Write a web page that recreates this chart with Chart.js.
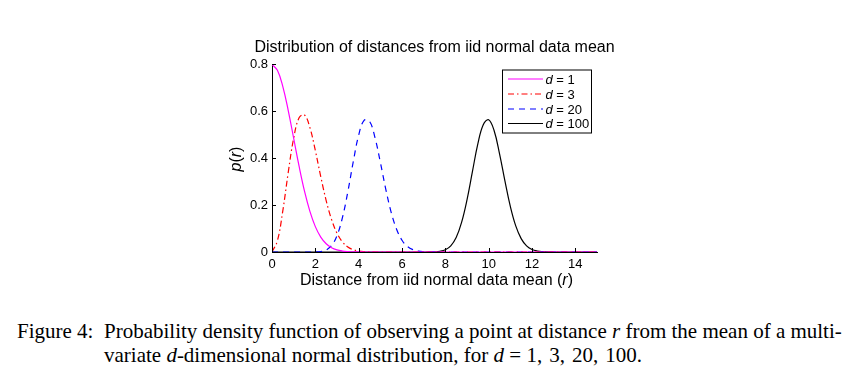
<!DOCTYPE html>
<html>
<head>
<meta charset="utf-8">
<script src="https://cdn.jsdelivr.net/npm/chart.js@4/dist/chart.umd.min.js"></script>
<style>
  body { margin: 0; background: #fff; width: 856px; height: 387px; overflow: hidden; position: relative; }
  #wrap { position: absolute; left: 0; top: 0; width: 856px; height: 300px; }
  .cap { position: absolute; font-family: "Liberation Serif", "Times New Roman", serif; font-size: 21px; line-height: 24px; color: #000; white-space: nowrap; }
  #capLabel { left: 17px; top: 319px; }
  #capLine1 { left: 104px; top: 319px; width: 735px; text-align: justify; text-align-last: justify; }
  #capLine2 { left: 104px; top: 343px; }
</style>
</head>
<body>
<div id="wrap"><canvas id="pdfChart" width="856" height="300"></canvas></div>
<div class="cap" id="capLabel">Figure 4:</div>
<div class="cap" id="capLine1">Probability density function of observing a point at distance <i>r</i> from the mean of a multi-</div>
<div class="cap" id="capLine2">variate <i>d</i>-dimensional normal distribution, for <i>d</i> = 1,&#8202; 3,&#8202; 20,&#8202; 100.</div>
<script>
// distance grid (r), step 0.25 from 0 to 15
const rValues = [
  0, 0.25, 0.5, 0.75, 1, 1.25, 1.5, 1.75, 2, 2.25, 2.5, 2.75, 3, 3.25, 3.5, 3.75,
  4, 4.25, 4.5, 4.75, 5, 5.25, 5.5, 5.75, 6, 6.25, 6.5, 6.75, 7, 7.25, 7.5, 7.75,
  8, 8.25, 8.5, 8.75, 9, 9.25, 9.5, 9.75, 10, 10.25, 10.5, 10.75, 11, 11.25, 11.5, 11.75,
  12, 12.25, 12.5, 12.75, 13, 13.25, 13.5, 13.75, 14, 14.25, 14.5, 14.75, 15
];

// p(r)
const pD1 = [
  0.798, 0.773, 0.704, 0.602, 0.484, 0.365, 0.259, 0.173, 0.108, 0.0635, 0.035, 0.0182, 0.0089, 0.0041, 0.0018, 0.0007,
  0.0003, 0, 0, 0, 0, 0, 0, 0, 0, 0, 0, 0, 0, 0, 0, 0,
  0, 0, 0, 0, 0, 0, 0, 0, 0, 0, 0, 0, 0, 0, 0, 0,
  0, 0, 0, 0, 0, 0, 0, 0, 0, 0, 0, 0, 0
];
const pD3 = [
  0, 0.048, 0.176, 0.339, 0.484, 0.571, 0.583, 0.529, 0.432, 0.321, 0.219, 0.138, 0.08, 0.043, 0.021, 0.01,
  0.0043, 0.0017, 0.0007, 0, 0, 0, 0, 0, 0, 0, 0, 0, 0, 0, 0, 0,
  0, 0, 0, 0, 0, 0, 0, 0, 0, 0, 0, 0, 0, 0, 0, 0,
  0, 0, 0, 0, 0, 0, 0, 0, 0, 0, 0, 0, 0
];
const pD20 = [
  0, 0, 0, 0, 0, 0, 0, 0.00005, 0.0004, 0.0021, 0.0086, 0.0273, 0.0695, 0.146, 0.256, 0.384,
  0.497, 0.56, 0.556, 0.488, 0.382, 0.268, 0.169, 0.097, 0.05, 0.0235, 0.01, 0.0039, 0.0014, 0.0005, 0.00014, 0,
  0, 0, 0, 0, 0, 0, 0, 0, 0, 0, 0, 0, 0, 0, 0, 0,
  0, 0, 0, 0, 0, 0, 0, 0, 0, 0, 0, 0, 0
];
const pD100 = [
  0, 0, 0, 0, 0, 0, 0, 0, 0, 0, 0, 0, 0, 0, 0, 0,
  0, 0, 0, 0, 0, 0, 0, 0, 0, 0, 0, 0, 0.00003, 0.00017, 0.00076, 0.0029,
  0.0094, 0.026, 0.0615, 0.126, 0.222, 0.342, 0.46, 0.542, 0.563, 0.517, 0.419, 0.303, 0.194, 0.111, 0.057, 0.026,
  0.0108, 0.004, 0.00135, 0.0004, 0.0001, 0, 0, 0, 0, 0, 0, 0, 0
];

const seriesNames = ['1', '3', '20', '100'];
const seriesColors = ['#ff00ff', '#ff0000', '#0000ff', '#000000'];
const seriesDashes = [[], [6, 3, 1.5, 3], [6, 5], []];
const seriesValues = [pD1, pD3, pD20, pD100];

const xTicks = [0, 2, 4, 6, 8, 10, 12, 14];
const yTicks = [0, 0.2, 0.4, 0.6, 0.8];

const SANS = '"Liberation Sans", Arial, Helvetica, sans-serif';

// title, axis labels, legend and inward tick marks
const decorPlugin = {
  id: 'decor',
  afterDraw(chart) {
    const ctx = chart.ctx;
    const area = chart.chartArea;
    const xs = chart.scales.x, ys = chart.scales.y;
    ctx.save();
    ctx.strokeStyle = '#000';
    ctx.lineWidth = 1;
    ctx.setLineDash([]);
    // inward ticks
    ctx.beginPath();
    xs.ticks.forEach(t => {
      const px = Math.round(xs.getPixelForValue(t.value)) + 0.5;
      ctx.moveTo(px, area.bottom);
      ctx.lineTo(px, area.bottom - 4);
    });
    ys.ticks.forEach(t => {
      const py = Math.round(ys.getPixelForValue(t.value)) + 0.5;
      ctx.moveTo(area.left, py);
      ctx.lineTo(area.left + 4, py);
    });
    ctx.stroke();

    ctx.fillStyle = '#000';
    // title
    ctx.font = '16px ' + SANS;
    ctx.textAlign = 'center';
    ctx.textBaseline = 'alphabetic';
    ctx.fillText('Distribution of distances from iid normal data mean', (area.left + area.right) / 2, 52);

    // mixed upright / italic text, centred on x
    const drawParts = (parts, x, y) => {
      let w = 0;
      parts.forEach(p => { ctx.font = p[1] + ' 16px ' + SANS; w += ctx.measureText(p[0]).width; });
      let cx = x - w / 2;
      ctx.textAlign = 'left';
      parts.forEach(p => {
        ctx.font = p[1] + ' 16px ' + SANS;
        ctx.fillText(p[0], cx, y);
        cx += ctx.measureText(p[0]).width;
      });
    };
    drawParts([['Distance from iid normal data mean (', 'normal'], ['r', 'italic'], [')', 'normal']],
      (area.left + area.right) / 2 + 2, 285);

    // y label p(r), rotated
    ctx.save();
    ctx.translate(241, (area.top + area.bottom) / 2 + 1);
    ctx.rotate(-Math.PI / 2);
    drawParts([['p', 'italic'], ['(', 'normal'], ['r', 'italic'], [')', 'normal']], 0, 0);
    ctx.restore();

    // legend
    const lx = 502, ly = 69.5, lw = 89, lh = 63;
    ctx.fillStyle = '#fff';
    ctx.fillRect(lx, ly, lw, lh);
    ctx.strokeStyle = '#000';
    ctx.lineWidth = 1;
    ctx.strokeRect(lx + 0.5, ly + 0.5, lw, lh);
    const rowY = [79, 94, 109, 123.5];
    seriesNames.forEach((name, i) => {
      ctx.strokeStyle = seriesColors[i];
      ctx.lineWidth = 1.2;
      ctx.setLineDash(seriesDashes[i]);
      ctx.beginPath();
      ctx.moveTo(508, rowY[i]);
      ctx.lineTo(543, rowY[i]);
      ctx.stroke();
      ctx.setLineDash([]);
      ctx.fillStyle = '#000';
      ctx.textAlign = 'left';
      ctx.textBaseline = 'middle';
      ctx.font = 'italic 13px ' + SANS;
      ctx.fillText('d', 545.5, rowY[i] + 1);
      const dw = ctx.measureText('d').width;
      ctx.font = '13px ' + SANS;
      ctx.fillText(' = ' + name, 545.5 + dw, rowY[i] + 1);
    });
    ctx.restore();
  }
};

document.addEventListener('DOMContentLoaded', function() {
  const ctx = document.getElementById('pdfChart');
  new Chart(ctx.getContext('2d'), {
    type: 'line',
    data: {
      datasets: seriesValues.map((vals, i) => ({
        label: 'd = ' + seriesNames[i],
        data: rValues.map((r, j) => ({ x: r, y: vals[j] })),
        borderColor: seriesColors[i],
        borderDash: seriesDashes[i],
        borderWidth: 1.2,
        pointRadius: 0,
        tension: 0.4,
        fill: false
      }))
    },
    options: {
      responsive: false,
      animation: false,
      events: [],
      layout: { autoPadding: false, padding: { left: 212, right: 259, top: 64, bottom: 8 } },
      plugins: { legend: { display: false }, title: { display: false }, tooltip: { enabled: false } },
      scales: {
        x: {
          type: 'linear', min: 0, max: 15,
          afterFit: s => { s.height = 40; },
          afterBuildTicks: s => { s.ticks = xTicks.map(v => ({ value: v })); },
          grid: { display: false, drawTicks: false },
          border: { display: true, color: '#000', width: 1 },
          ticks: { color: '#000', padding: 5, maxRotation: 0, font: { family: SANS, size: 13 } }
        },
        y: {
          type: 'linear', min: 0, max: 0.8,
          afterFit: s => { s.width = 60; },
          afterBuildTicks: s => { s.ticks = yTicks.map(v => ({ value: v })); },
          grid: { display: false, drawTicks: false },
          border: { display: true, color: '#000', width: 1 },
          ticks: { color: '#000', padding: 4, font: { family: SANS, size: 13 } }
        }
      }
    },
    plugins: [decorPlugin]
  });
});
</script>
</body>
</html>
